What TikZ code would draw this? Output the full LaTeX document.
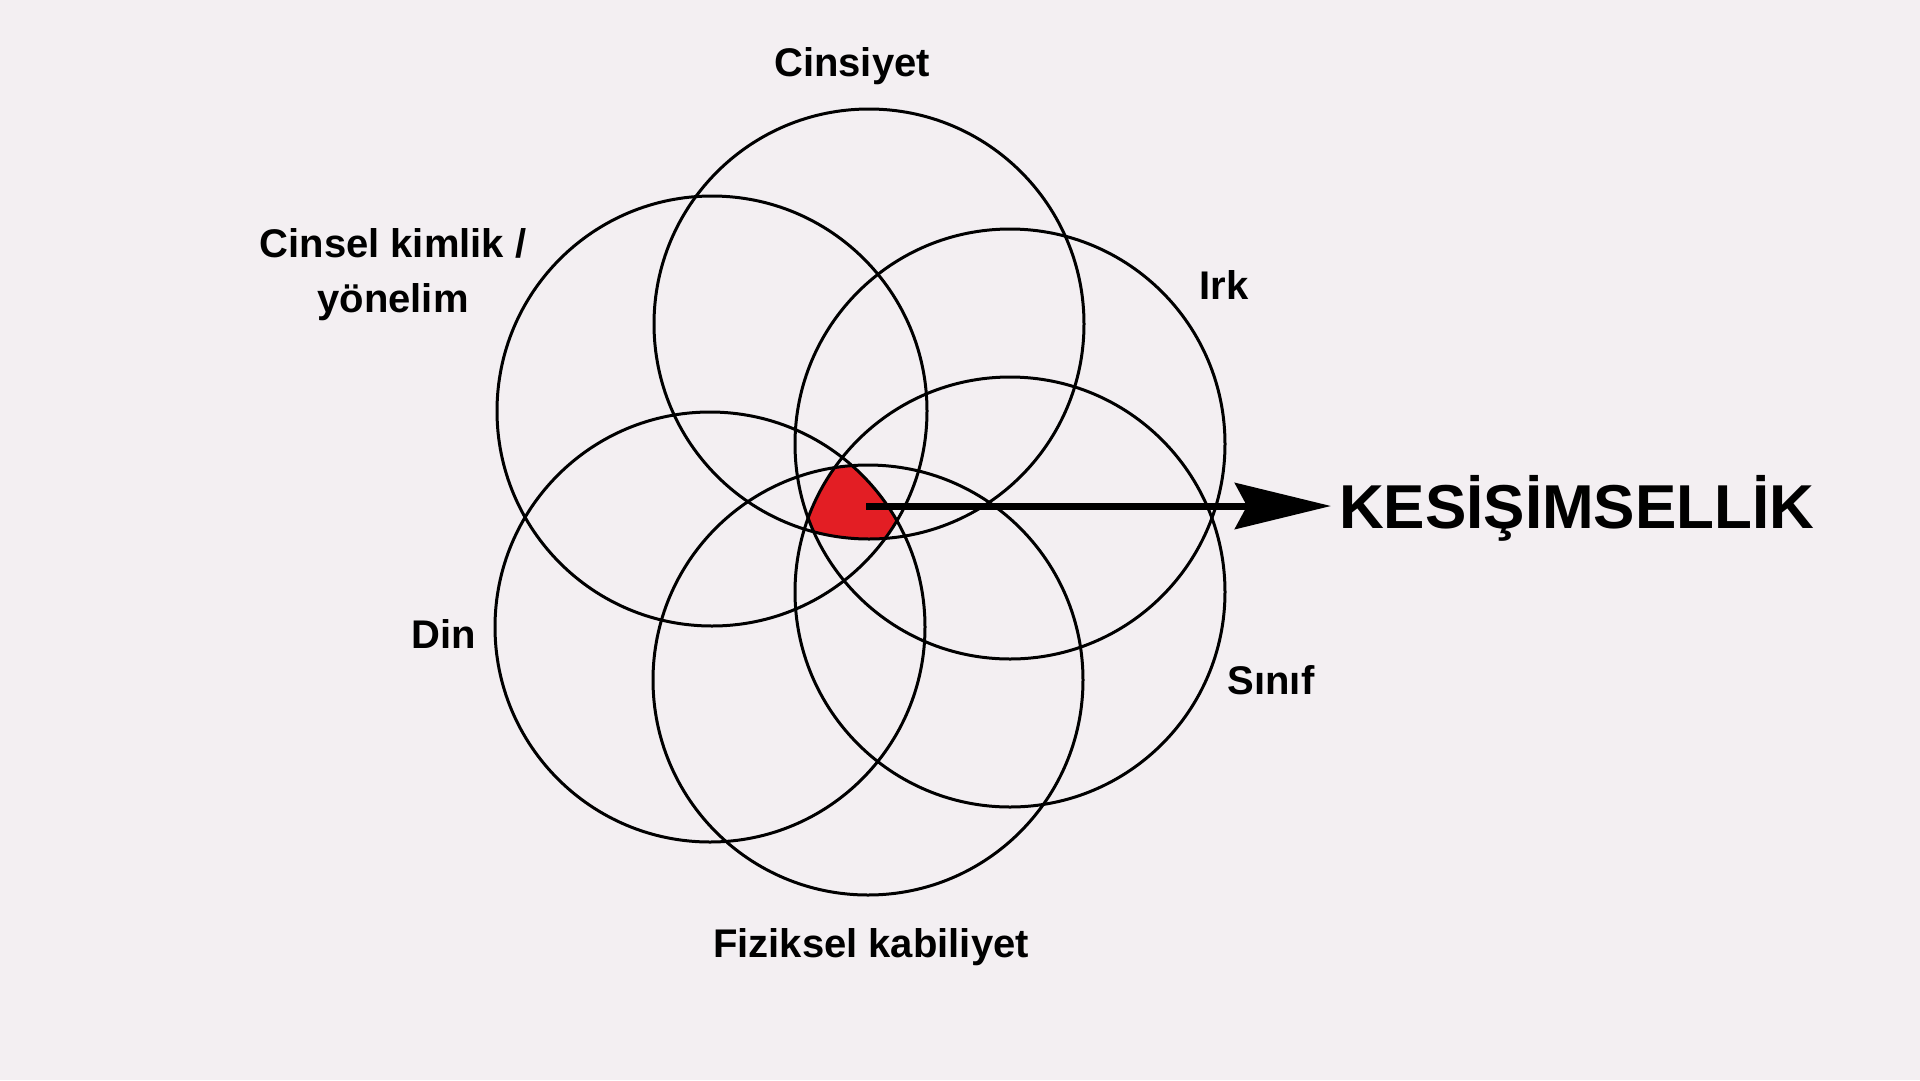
\documentclass[tikz,border=0pt]{standalone}
\usepackage{fontspec}
\setmainfont{Liberation Sans}
\usetikzlibrary{arrows.meta}
\definecolor{bgc}{RGB}{243,239,242}
\definecolor{redfill}{RGB}{227,30,36}
\begin{document}
\begin{tikzpicture}[x=1pt,y=-1pt,
  ring/.style={circle,draw=black,line width=3pt,minimum size=430pt,inner sep=0pt,outer sep=0pt},
  lbl/.style={font=\fontsize{40}{55}\selectfont\bfseries,inner sep=0pt,anchor=base,align=center},
  big/.style={font=\fontsize{62}{70}\selectfont\bfseries,inner sep=0pt,outer sep=0pt,outer xsep=8pt,anchor=base west},
  conn/.style={line width=7pt,-{Stealth[length=96pt,width=46pt,inset=12pt]}}]
\fill[bgc] (0,0) rectangle (1920,1080);
\useasboundingbox (0,0) rectangle (1920,1080);
% circle centres
\coordinate (pA) at (869,324);  % Cinsiyet
\coordinate (pB) at (712,411);  % Cinsel kimlik
\coordinate (pC) at (1010,444); % Irk
\coordinate (pD) at (1010,592); % Sinif
\coordinate (pE) at (868,680);  % Fiziksel
\coordinate (pF) at (710,627);  % Din
% red intersection
\begin{scope}
  \clip (pA) circle[radius=215pt];
  \clip (pB) circle[radius=215pt];
  \clip (pC) circle[radius=215pt];
  \clip (pD) circle[radius=215pt];
  \clip (pE) circle[radius=215pt];
  \clip (pF) circle[radius=215pt];
  \fill[redfill] (700,400) rectangle (1000,620);
\end{scope}
% circles
\node[ring] (cA) at (pA) {};
\node[ring] (cB) at (pB) {};
\node[ring] (cC) at (pC) {};
\node[ring] (cD) at (pD) {};
\node[ring] (cE) at (pE) {};
\node[ring] (cF) at (pF) {};
% labels
\node[lbl] (lA) at (852,76) {Cinsiyet};
\node[lbl] (lB) at (393,312) {Cinsel kimlik /\\yönelim};
\node[lbl] (lC) at (1224,299) {Irk};
\node[lbl] (lD) at (1271,694) {Sınıf};
\node[lbl] (lE) at (871,957) {Fiziksel kabiliyet};
\node[lbl] (lF) at (444,648) {Din};
% arrow and title
\node[big] (kes) at (1331,528) {KESİŞİMSELLİK};
\coordinate (astart) at (866,506);
\draw[conn] (astart) -- (kes.west |- astart);
\end{tikzpicture}
\end{document}
